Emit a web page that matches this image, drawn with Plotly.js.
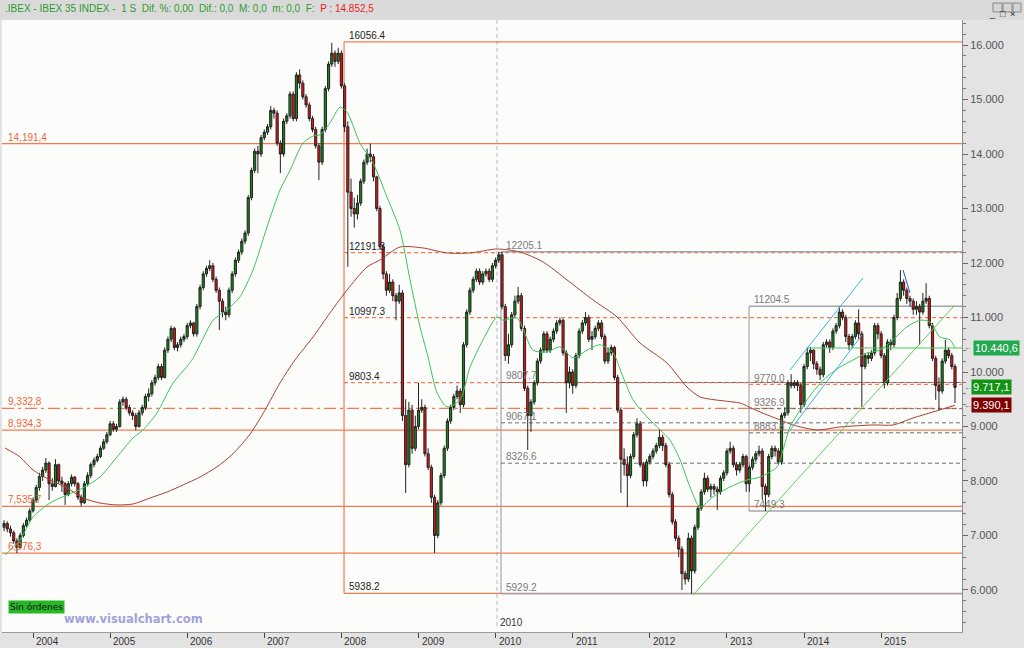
<!DOCTYPE html>
<html><head><meta charset="utf-8">
<script src="https://cdn.plot.ly/plotly-3.0.1.min.js"></script>
<style>html,body{margin:0;padding:0;background:#e3e3e3;}#chart{width:1024px;height:648px;}</style>
</head><body><div id="chart"></div>
<script>
// ---- semi-monthly candles ----
const firstCandle = 2003.625;   // decimal year of first candle
const candleStep = 1 / 24;      // half a month

const open = [7150,7220,7120,7050,6900,6780,7000,7180,7280,7450,7650,7880,8080,8200,8330,7950,7900,8300,8000,7950,7750,7950,8070,7950,7700,7600,7950,8100,8300,8380,8450,8600,8720,8850,
9050,8950,9000,9450,9500,9350,9250,9200,9000,9250,9350,9550,9600,9800,9900,10100,9900,10400,10600,10800,10450,10500,10600,10650,10850,10900,10700,11200,
11550,11800,11900,11950,11700,11500,11300,11100,11050,11500,11800,12050,12200,12400,12550,13200,13700,14050,14000,14300,14400,14500,14800,14750,14200,14000,14600,14700,15100,14650,15450,15300,15050,14900,14650,14450,14150,13850,14450,15200,15650,15850,15700,15850,15250,
14500,13300,13000,12900,13100,13500,13850,14000,13950,13580,13000,12300,11800,11500,11650,11400,11300,11450,9200,8300,9300,8600,9000,9300,9350,8500,8250,7700,7000,7600,8100,8600,9100,9350,9550,9650,9400,10500,11100,11500,11700,11850,11650,11800,11850,11700,11950,12050,
12150,11200,10300,10500,11050,11300,11400,10800,9700,9200,9450,9800,10200,10400,10700,10400,10600,10750,10900,10950,10350,9800,10000,9750,10300,10750,10900,11000,10600,10650,10800,10900,10650,10200,10350,10450,9900,9300,8400,8300,8100,8450,8850,9050,8300,8000,8350,8450,8550,8650,8800,8650,8300,7750,7250,6950,6750,6300,6200,6950,6350,7150,7500,7800,8050,7850,7900,7850,7800,8050,8150,8550,8600,8300,8200,8300,8450,
7950,8250,8400,8500,8550,7900,7750,8450,8600,8550,8350,9200,9250,9800,9750,9800,9750,9400,10100,10350,10400,10150,10050,9950,10500,10550,10450,10750,10850,11100,11000,10650,10500,10650,10900,10700,10100,10300,10250,10350,10850,10700,10300,9800,10550,10500,11000,11350,11650,11500,11350,11300,11150,11200,11100,11300,11350,10850,10250,9750,9650,10200,10400,10300,10100];

const high = [7280,7260,7180,7090,6950,7050,7230,7330,7500,7700,7930,8150,8260,8420,8360,8050,8400,8320,8080,7980,8000,8120,8090,7980,7750,8000,8160,8340,8430,8500,8650,8770,8900,9100,
9100,9050,9500,9550,9540,9400,9300,9250,9300,9400,9600,9700,9850,9950,10150,10150,10450,10650,10850,10830,10550,10650,10700,10900,10950,10920,11250,11600,
11850,11950,12050,12000,11750,11550,11350,11200,11550,11850,12100,12250,12450,12600,13250,13750,14100,14150,14350,14450,14550,14880,14850,14800,14250,14650,14750,15150,15150,15500,15550,15350,15100,14950,14700,14500,14200,14500,15250,15700,16040,15900,15950,15900,15300,
14600,13550,13200,13250,13550,13900,14100,14190,14000,13600,13050,12350,11850,11800,11700,11450,11600,11500,9500,9450,9400,9200,9800,9500,9400,8600,8300,7750,7650,8150,8650,9150,9400,9600,9750,9700,10550,11150,11550,11750,11900,11900,11850,11900,11900,12000,12100,12205,
12200,11250,10700,11100,11400,11560,11450,10850,9750,9500,9850,10250,10450,10750,10750,10650,10800,10950,11000,10980,10400,10100,10050,10350,10800,10950,11100,11050,10750,10850,10950,10950,10700,10450,10500,10480,9950,9350,8600,8450,8500,8900,9150,9100,8350,8400,8500,8600,8700,8940,8850,8700,8350,7800,7300,7000,6800,6350,7050,7000,7200,7550,7850,8150,8100,7950,7950,7900,8100,8200,8600,8720,8650,8350,8350,8500,8480,
8300,8450,8550,8650,8600,7950,8500,8650,8650,8600,9250,9350,9850,9960,9850,9850,9800,10150,10450,10460,10420,10200,10100,10550,10600,10600,10800,10900,11200,11150,11050,10700,10700,10950,11150,10750,10350,10350,10400,10900,10900,10750,10350,10600,10600,11050,11450,11870,11700,11550,11400,11350,11300,11250,11450,11630,11400,10900,10300,9900,10250,10590,10450,10350,10150];

const low = [7080,7060,6980,6850,6676,6760,6960,7150,7250,7420,7600,7820,8000,8150,7650,7820,7880,7950,7800,7560,7720,7900,7900,7650,7536,7580,7900,8050,8250,8340,8420,8570,8680,8820,
8900,8900,8980,9380,9300,9200,9120,8930,8980,9200,9300,9460,9550,9750,9850,9850,9880,10350,10550,10400,10380,10450,10550,10600,10800,10650,10650,11150,
11500,11750,11850,11650,11450,10770,11000,10950,11000,11450,11750,12000,12150,12350,12500,13150,13650,13650,13950,14250,14350,14450,14650,14150,13650,13950,14550,14650,14600,14600,15200,15000,14850,14600,14400,14100,13520,13800,14400,15150,15600,15600,15650,15200,14400,
11930,12850,12650,12800,13050,13450,13800,13850,13500,12950,12250,11700,11400,11450,11300,10950,11250,9100,7780,8250,8500,8550,8950,9250,8450,8200,7600,6680,6950,7550,8050,8550,9050,9300,9500,9250,9350,10450,11050,11450,11650,11600,11600,11750,11650,11650,11900,12000,
11150,10200,10150,10450,11000,11250,10750,9650,8570,8900,9400,9750,10150,10350,10350,10350,10550,10700,10850,10300,9250,9700,9600,9700,10250,10700,10850,10550,10400,10600,10750,10600,10150,10150,10300,9850,9250,7780,8100,7520,8050,8400,8800,8250,7900,7900,8300,8400,8500,8600,8550,8250,7700,7200,6900,6600,6000,6100,6150,5929,6300,7100,7450,7750,7800,7700,7750,7470,7750,8000,8100,8500,8250,8100,8150,8250,7800,
7800,8200,8350,8450,7650,7449,7700,8400,8450,8300,8300,9150,9200,9700,9700,9650,9250,9350,10050,10200,10050,9950,9850,9900,10450,10350,10400,10700,10800,10950,10550,10400,10450,10600,10600,9360,10050,10150,10200,10300,10600,10250,9700,9750,10400,10450,10950,11300,11400,11250,11200,11050,11050,10500,11050,11250,10800,10200,9490,9300,9600,10150,10250,10050,9430];

const close = [7220,7120,7050,6900,6780,7000,7180,7280,7450,7650,7880,8080,8200,8330,7950,7900,8300,8000,7950,7750,7950,8070,7950,7700,7600,7950,8100,8300,8380,8450,8600,8720,8850,9050,
8950,9000,9450,9500,9350,9250,9200,9000,9250,9350,9550,9600,9800,9900,10100,9900,10400,10600,10800,10450,10500,10600,10650,10850,10900,10700,11200,11550,
11800,11900,11950,11700,11500,11300,11100,11050,11500,11800,12050,12200,12400,12550,13200,13700,14050,14000,14300,14400,14500,14800,14750,14200,14000,14600,14700,15100,14650,15450,15300,15050,14900,14650,14450,14150,13850,14450,15200,15650,15850,15700,15850,15250,14500,
13300,13000,12900,13100,13500,13850,14000,13950,13580,13000,12300,11800,11500,11650,11400,11300,11450,9200,8300,9300,8600,9000,9300,9350,8500,8250,7700,7000,7600,8100,8600,9100,9350,9550,9650,9400,10500,11100,11500,11700,11850,11650,11800,11850,11700,11950,12050,12150,
11200,10300,10500,11050,11300,11400,10800,9700,9200,9450,9800,10200,10400,10700,10400,10600,10750,10900,10950,10350,9800,10000,9750,10300,10750,10900,11000,10600,10650,10800,10900,10650,10200,10350,10450,9900,9300,8400,8300,8100,8450,8850,9050,8300,8000,8350,8450,8550,8650,8800,8650,8300,7750,7250,6950,6750,6300,6200,6950,6350,7150,7500,7800,8050,7850,7900,7850,7800,8050,8150,8550,8600,8300,8200,8300,8450,7950,
8250,8400,8500,8550,7900,7750,8450,8600,8550,8350,9200,9250,9800,9750,9800,9750,9400,10100,10350,10400,10150,10050,9950,10500,10550,10450,10750,10850,11100,11000,10650,10500,10650,10900,10700,10100,10300,10250,10350,10850,10700,10300,9800,10550,10500,11000,11350,11650,11500,11350,11300,11150,11200,11100,11300,11350,10850,10250,9750,9650,10200,10400,10300,10100,9717.1];

// ---- moving averages (traced) ----
const maFastT = [2003.637,2003.831,2004.000,2004.220,2004.441,2004.649,2004.869,2005.089,2005.297,2005.427,2005.608,2005.816,2005.997,2006.075,2006.166,2006.335,2006.516,2006.685,2006.853,2007.035,2007.204,2007.333,2007.502,2007.632,2007.722,2007.852,2007.982,2008.073,2008.241,2008.410,2008.591,2008.760,2008.890,2009.019,2009.123,2009.240,2009.370,2009.538,2009.668,2009.837,2010.018,2010.096,2010.278,2010.485,2010.667,2010.835,2011.004,2011.185,2011.354,2011.523,2011.652,2011.782,2011.964,2012.132,2012.262,2012.392,2012.521,2012.651,2012.820,2013.040,2013.261,2013.429,2013.650,2013.728,2013.819,2014.039,2014.246,2014.467,2014.635,2014.817,2014.985,2015.154,2015.336,2015.504,2015.634,2015.764,2015.894,2015.958];
const maFastV = [6642,6917,7340,7596,7743,7872,8073,8440,8789,8936,9248,9798,10100,10250,10500,10950,11140,11380,11870,12660,13340,13700,14200,14330,14350,14570,14860,14770,14200,13835,13210,12600,11690,10830,10280,9620,9360,9490,10090,10590,11010,10950,10990,10400,10370,10460,10260,10400,10500,10350,9910,9490,9175,8940,8750,8390,7890,7520,7710,7890,8020,8070,8260,8570,8990,9490,9850,10090,10220,10350,10400,10590,10830,10950,10920,10640,10590,10440.6];

const maSlowT = [2003.637,2003.831,2004.000,2004.220,2004.441,2004.649,2004.869,2005.089,2005.297,2005.518,2005.738,2005.946,2006.166,2006.386,2006.594,2006.815,2007.009,2007.204,2007.398,2007.632,2007.852,2008.073,2008.332,2008.501,2008.760,2009.058,2009.370,2009.668,2010.018,2010.316,2010.615,2010.926,2011.263,2011.575,2011.873,2012.223,2012.482,2012.651,2013.079,2013.170,2013.429,2013.689,2013.857,2014.169,2014.467,2014.895,2015.154,2015.414,2015.673,2015.958];
const maSlowV = [8606,8441,8202,8019,7872,7688,7596,7560,7578,7688,7798,7927,8073,8260,8500,8860,9300,9800,10221,10643,11083,11505,11927,12056,12294,12276,12184,12184,12257,12202,12020,11689,11322,11010,10532,10165,9725,9542,9450,9431,9266,9120,9028,8936,8991,9028,9028,9156,9266,9390.1];

// ---- drawn levels ----
const supportLevels = [14191.4, 9332.8, 8934.3, 7535.7, 6676.3];
const supportLabels = ['14,191,4', '9,332,8', '8,934,3', '7,535,7', '6,676,3'];
const fibSets = [
  {start: 2008.034, top: 16056.4, bottom: 5938.2, levels: [12191.3, 10997.3, 9803.4]},
  {start: 2010.070, top: 12205.1, bottom: 5929.2, levels: [9807.7, 9067.1, 8326.6]},
  {start: 2013.287, top: 11204.5, bottom: 7449.3, levels: [9770.0, 9326.9, 8883.8]}
];
const trendGreenT = [2012.560, 2015.950], trendGreenV = [5908, 11221];
const channelUpT = [2013.818, 2014.765], channelUpV = [10037, 11725];
const channelLoT = [2013.792, 2014.752], channelLoV = [8881, 10679];
const peakLineT = [2015.284, 2015.375], peakLineV = [11872, 11450];
const maFastLevelStart = 2014.052;
const markerYear = 2010.018;
const yearTicks = [2004, 2005, 2006, 2007, 2008, 2009, 2010, 2011, 2012, 2013, 2014, 2015];

// ---- layout constants ----
const xMin = 2003.598, xMax = 2016.049, yMin = 5229, yMax = 16459;
if (![open, high, low].every(a => a.length === close.length)) console.warn('length mismatch', open.length, high.length, low.length, close.length);
const candleX = close.map((_, i) => firstCandle + i * candleStep);

const ORANGE = '#f47a52', GREYLINE = '#a4a4ac', GREYDASH = '#6c6c74';
const fmtEs = v => { const s = v.toFixed(1).split('.'); return s[0].replace(/\B(?=(\d{3})+(?!\d))/g, '.') + ',' + s[1]; };

const shapes = [], annotations = [];
function hl(x0, x1, y, color, dash, width) {
  shapes.push({type: 'line', xref: 'x', yref: 'y', x0, x1, y0: y, y1: y, layer: 'below', line: {color, dash, width}});
}
function vl(x, y0, y1, color, dash, width) {
  shapes.push({type: 'line', xref: 'x', yref: 'y', x0: x, x1: x, y0, y1, layer: 'below', line: {color, dash, width}});
}
function lab(x, y, text, color, xshift) {
  annotations.push({xref: 'x', yref: 'y', x, y, text, showarrow: false, xanchor: 'left', yanchor: 'bottom',
    xshift: xshift, yshift: -1, font: {size: 10, color, family: 'Liberation Sans, Arial, sans-serif'}});
}

// support lines
supportLevels.forEach((v, i) => {
  hl(xMin, xMax, v, ORANGE, i === 1 ? '12px,4px,3px,4px' : 'solid', 1.3);
  lab(xMin, v, supportLabels[i], '#f0643a', 4);
});
// fib 1 (orange)
const f1 = fibSets[0];
hl(f1.start, xMax, f1.top, ORANGE, 'solid', 1.2);
hl(f1.start, xMax, f1.bottom, ORANGE, 'solid', 1.2);
vl(f1.start, f1.bottom, f1.top, ORANGE, 'solid', 1.2);
f1.levels.forEach(v => hl(f1.start, xMax, v, ORANGE, '4px,3px', 1.2));
[f1.top, ...f1.levels, f1.bottom].forEach(v => lab(f1.start, v, v.toFixed(1), '#222', 3));
// fib 2 & 3 (grey)
fibSets.slice(1).forEach((f, j) => {
  hl(f.start, xMax, f.top, GREYLINE, 'solid', 1.5);
  hl(f.start, xMax, f.bottom, GREYLINE, 'solid', 1.5);
  vl(f.start, f.bottom, f.top, GREYLINE, 'solid', 1.2);
  f.levels.forEach((v, i) => hl(f.start, xMax, v, (j === 1 && i === 0) ? ORANGE : GREYDASH, '4px,3px', 1));
  [f.top, ...f.levels, f.bottom].forEach(v => lab(f.start, v, v.toFixed(1), '#7a7a7a', 3));
});
// 2010 marker
shapes.push({type: 'line', xref: 'x', yref: 'paper', x0: markerYear, x1: markerYear, y0: 0.01, y1: 1, layer: 'below',
  line: {color: '#b4b4c4', dash: '4px,3px', width: 1}});
annotations.push({xref: 'x', yref: 'paper', x: markerYear, y: 0.003, text: '2010', showarrow: false, xanchor: 'left', yanchor: 'bottom',
  xshift: 1, font: {size: 10, color: '#333'}});

// x tick labels (to the right of each tick)
yearTicks.forEach(yr => annotations.push({xref: 'x', yref: 'paper', x: yr, y: 0, yshift: -2, xanchor: 'left', yanchor: 'top',
  xshift: 1, text: String(yr), showarrow: false, font: {size: 10, color: '#333'}}));

// top bar & window buttons
shapes.push({type: 'rect', xref: 'paper', yref: 'paper', x0: -0.01, x1: 1.07, y0: 1.0005, y1: 1.04, fillcolor: '#dadada', line: {width: 0}});
[[1.0323, 1.0417, '_'], [1.0427, 1.0521, '□'], [1.0531, 1.0615, '×']].forEach(b => {
  shapes.push({type: 'rect', xref: 'paper', yref: 'paper', x0: b[0], x1: b[1], y0: 1.0131, y1: 1.0278, fillcolor: '#d4d4d4', line: {color: '#888', width: 1}});
  annotations.push({xref: 'paper', yref: 'paper', x: (b[0] + b[1]) / 2, y: 1.0205, text: b[2], showarrow: false, font: {size: 9, color: '#222'}});
});
annotations.push({xref: 'paper', yref: 'paper', x: 0.001, y: 1.0185, xanchor: 'left', yanchor: 'middle', showarrow: false,
  text: '<span style="color:#2f9a2f">.IBEX - IBEX 35 INDEX -  1 S  Dif. %: 0,00  Dif.: 0,0  M: 0,0  m: 0,0  F:</span>  <span style="color:#ee2020">P : 14.852,5</span>',
  font: {size: 10, family: 'Liberation Sans, Arial, sans-serif'}});

// right side value tags
const lastClose = close[close.length - 1], lastFast = maFastV[maFastV.length - 1], lastSlow = maSlowV[maSlowV.length - 1];
[[lastFast, '#22a84e', 1.0115], [lastClose, '#139313', 1.0094], [lastSlow, '#7e0000', 1.0094]].forEach(t => {
  annotations.push({xref: 'paper', yref: 'y', x: t[2], y: t[0], xanchor: 'left', text: fmtEs(t[0]), showarrow: false, bgcolor: t[1], borderpad: 1,
    font: {size: 11, color: '#ffffff', family: 'Liberation Sans, Arial, sans-serif'}});
  annotations.push({xref: 'paper', yref: 'y', x: 1.0, xshift: 0, xanchor: 'left', y: t[0], text: '←', showarrow: false, font: {size: 8, color: '#555'}});
});

// bottom-left badges
annotations.push({xref: 'paper', yref: 'paper', x: 0.0063, y: 0.041, xanchor: 'left', yanchor: 'middle', showarrow: false,
  text: 'Sin órdenes', bgcolor: '#26b826', borderpad: 1, font: {size: 9, color: '#111', family: 'DejaVu Sans, sans-serif'}});
annotations.push({xref: 'paper', yref: 'paper', x: 0.062, y: 0.022, xanchor: 'left', yanchor: 'middle', showarrow: false,
  text: '<b>www.visualchart.com</b>', font: {size: 11.5, color: '#a2a2dc', family: 'DejaVu Sans, sans-serif'}});

const traces = [
  {type: 'candlestick', x: candleX, open, high, low, close, hoverinfo: 'none', whiskerwidth: 0,
   increasing: {line: {color: '#222222', width: 1}, fillcolor: '#128a12'},
   decreasing: {line: {color: '#222222', width: 1}, fillcolor: '#ee1010'}},
  {type: 'scatter', mode: 'lines', x: maSlowT, y: maSlowV, line: {color: '#a8402e', width: 1, shape: 'spline', smoothing: 0.7}, hoverinfo: 'none'},
  {type: 'scatter', mode: 'lines', x: maFastT, y: maFastV, line: {color: '#3cc45a', width: 1, shape: 'spline', smoothing: 0.7}, hoverinfo: 'none'},
  {type: 'scatter', mode: 'lines', x: [maFastLevelStart, xMax], y: [lastFast, lastFast], line: {color: '#4cc85a', width: 1}, hoverinfo: 'none'},
  {type: 'scatter', mode: 'lines', x: trendGreenT, y: trendGreenV, line: {color: '#5cd05c', width: 1}, hoverinfo: 'none'},
  {type: 'scatter', mode: 'lines', x: channelUpT, y: channelUpV, line: {color: '#3cb4e4', width: 1}, hoverinfo: 'none'},
  {type: 'scatter', mode: 'lines', x: channelLoT, y: channelLoV, line: {color: '#3cb4e4', width: 1}, hoverinfo: 'none'},
  {type: 'scatter', mode: 'lines', x: peakLineT, y: peakLineV, line: {color: '#3050e0', width: 1}, hoverinfo: 'none'}
];

const layout = {
  width: 1024, height: 648, margin: {l: 2, r: 62, t: 20, b: 16, pad: 0},
  paper_bgcolor: '#e3e3e3', plot_bgcolor: '#fcfdfb', separators: ',.', showlegend: false,
  font: {family: 'Liberation Sans, Arial, sans-serif', size: 10, color: '#333'},
  boxgap: 0.05,
  xaxis: {type: 'linear', range: [xMin, xMax], tickmode: 'array', tickvals: yearTicks, showticklabels: false,
    ticks: 'outside', ticklen: 5, tickcolor: '#444', showline: true, linecolor: '#9a9a9a', showgrid: false,
    zeroline: false, rangeslider: {visible: false}},
  yaxis: {side: 'right', range: [yMin, yMax], tick0: 0, dtick: 1000, tickformat: ',d', ticks: 'outside', ticklen: 5,
    tickcolor: '#666', showline: true, linecolor: '#8a8a8a', showgrid: false, zeroline: false,
    tickfont: {size: 11, color: '#555'}, minor: {dtick: 200, ticks: 'outside', ticklen: 3, tickcolor: '#777'}},
  shapes, annotations
};
Plotly.newPlot('chart', traces, layout, {staticPlot: true, displayModeBar: false});
</script>
</body></html>
